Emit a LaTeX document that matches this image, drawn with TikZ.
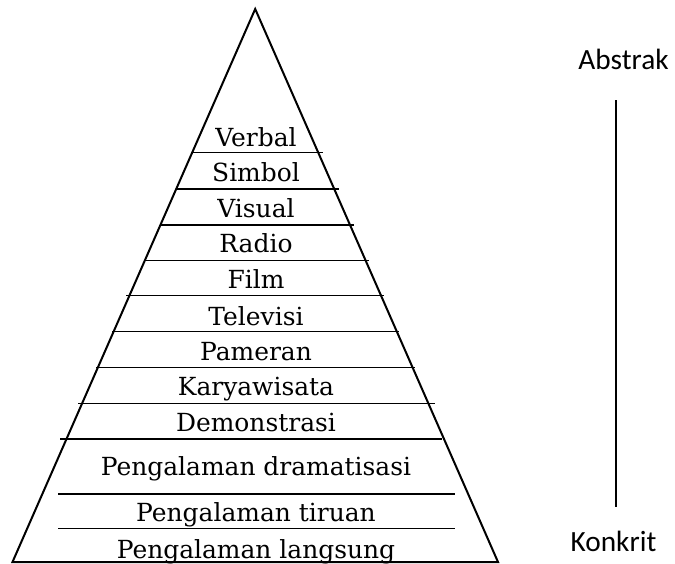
\documentclass[tikz,border=0pt]{standalone}
\usepackage{fontspec}
\setmainfont{DejaVu Serif}
\newfontfamily\calib{Carlito}
\begin{document}
\begin{tikzpicture}[x=0.75pt,y=-0.75pt,
  lvl/.style={font=\fontsize{18.7}{22}\selectfont, inner sep=0pt, anchor=base},
  side/.style={font=\calib\fontsize{22}{26}\selectfont, inner sep=0pt, anchor=base},
  sep/.style={line width=0.8pt},
  tri/.style={line width=1.5pt, line join=miter}]
\useasboundingbox (0,0) rectangle (675,564);
% triangle
\coordinate (apex) at (255.2,9);
\coordinate (bl) at (12.5,562);
\coordinate (br) at (498,562);
\draw[tri] (bl) -- (apex) -- (br) -- cycle;
% separators
\foreach \y/\a/\b [count=\i] in {152.7/192/323, 189/176/339, 225/160/354, 260.7/145/369, 295.5/126/384, 331.7/112/399, 367.5/96/415, 403.3/78/435, 439/60/442, 494/58/455, 528.7/58/455} {
  \coordinate (s\i a) at (\a,\y);
  \coordinate (s\i b) at (\b,\y);
  \draw[sep] (s\i a) -- (s\i b);
}
% labels
\node[lvl] (l1) at (256,146.7) {Verbal};
\node[lvl] (l2) at (256,181.7) {Simbol};
\node[lvl] (l3) at (256,217.3) {Visual};
\node[lvl] (l4) at (256,252.7) {Radio};
\node[lvl] (l5) at (256,288.5) {Film};
\node[lvl] (l6) at (256,325) {Televisi};
\node[lvl] (l7) at (256,360.7) {Pameran};
\node[lvl] (l8) at (256,395.5) {Karyawisata};
\node[lvl] (l9) at (256,431.5) {Demonstrasi};
\node[lvl] (l10) at (256,475) {Pengalaman dramatisasi};
\node[lvl] (l11) at (256,521.7) {Pengalaman tiruan};
\node[lvl] (l12) at (256,558) {Pengalaman langsung};
% side axis
\node[side] (abs) at (623.5,69.3) {Abstrak};
\node[side] (kon) at (613.5,551.7) {Konkrit};
\coordinate (vt) at (616,100);
\coordinate (vb) at (616,507);
\draw[line width=1.8pt] (vt) -- (vb);
\end{tikzpicture}
\end{document}
